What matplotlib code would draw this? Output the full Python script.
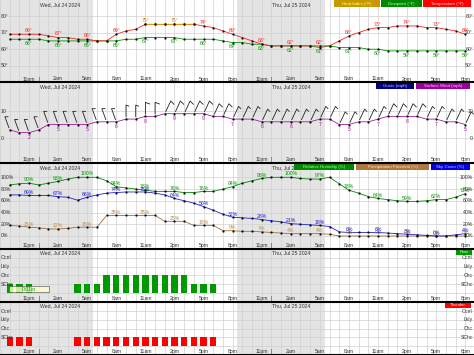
import matplotlib
matplotlib.use('Agg')
import matplotlib.pyplot as plt
from matplotlib.patches import Rectangle
from matplotlib.lines import Line2D
from matplotlib.collections import LineCollection
from matplotlib.transforms import IdentityTransform
import numpy as np

plt.rcParams['font.family'] = ['Liberation Sans', 'DejaVu Sans']

W, H = 474, 355
FS = 3.7
LFS = 3.2

# hours after midnight Wed Jul 24 (9pm Tue ... 8pm Thu)
hours = np.arange(-3, 45)
tick_hours = np.arange(-1, 45, 3)
tick_labels = ['11pm', '2am', '5am', '8am', '11am', '2pm', '5pm', '8pm'] * 2
day_labels = ['Wed, Jul 24 2024', 'Thu, Jul 25 2024']
day_starts = [0, 24]
nights = [(-4.5, 5.6), (20.5, 29.5)]

temperature = [69, 69, 69, 69, 68, 67, 67, 66, 66, 65, 65, 69, 71, 72, 75, 75,
               75, 75, 75, 75, 74, 73, 71, 69, 67, 65, 63, 62, 62, 62, 62, 62,
               62, 62, 65, 68, 70, 72, 73, 73, 74, 74, 74, 73, 73, 72, 71, 69]
dewpoint = [66, 66, 66, 66, 65, 65, 65, 65, 65, 65, 65, 65, 66, 66, 67, 67,
            67, 67, 66, 66, 66, 66, 65, 64, 64, 63, 63, 62, 62, 62, 62, 62,
            61, 62, 61, 61, 61, 60, 60, 59, 59, 59, 59, 59, 59, 59, 59, 59]
heat_hours = [11, 12, 13, 14, 15, 16]
heat_index = [75, 75, 75, 75, 75, 75]

wind = [3, 2, 2, 3, 5, 5, 5, 5, 5, 6, 6, 6, 7, 7, 8, 8,
        9, 9, 9, 9, 9, 8, 8, 7, 7, 7, 6, 6, 6, 6, 6, 6,
        7, 7, 5, 5, 6, 6, 7, 8, 8, 8, 8, 7, 7, 6, 6, 5]
wind_dir = [340] * 12 + [0] * 4 + [25] * 32

humidity = [87, 89, 90, 87, 90, 93, 97, 100, 100, 100, 94, 84, 82, 80, 78, 76,
            76, 76, 74, 74, 76, 76, 80, 84, 90, 94, 98, 100, 100, 100, 98, 97,
            97, 100, 89, 78, 73, 67, 64, 62, 60, 59, 59, 60, 62, 62, 66, 72]
precip = [18, 17, 15, 14, 12, 12, 13, 15, 15, 15, 35, 35, 35, 35, 35, 35,
          25, 25, 25, 18, 18, 18, 9, 9, 8, 8, 7, 6, 5, 4, 4, 4,
          4, 3, 0, 0, 0, 0, 0, 0, 0, 0, 0, 0, 0, 0, 0, 0]
sky = [70, 70, 69, 69, 69, 67, 66, 61, 66, 70, 73, 74, 75, 75, 75, 73,
       70, 64, 60, 56, 50, 44, 37, 32, 31, 30, 28, 26, 24, 21, 20, 19,
       18, 16, 7, 6, 6, 6, 6, 5, 4, 3, 2, 1, 0, 0, 2, 4]

chance_names = ['SChc', 'Chc', 'Lkly', 'Ocnl']
rain_level = [1, 1, 1, 0, 0, 0, 0, 1, 1, 1, 2, 2, 2, 2, 2, 2,
              2, 2, 2, 1, 1, 1, 0, 0, 0, 0, 0, 0, 0, 0, 0, 0,
              0, 0, 0, 0, 0, 0, 0, 0, 0, 0, 0, 0, 0, 0, 0, 0]
thunder_level = [1, 1, 1, 0, 0, 0, 0, 1, 1, 1, 1, 1, 1, 1, 1, 1,
                 1, 1, 1, 1, 1, 1, 0, 0, 0, 0, 0, 0, 0, 0, 0, 0,
                 0, 0, 0, 0, 0, 0, 0, 0, 0, 0, 0, 0, 0, 0, 0, 0]
qpf_text = '0.01in'

fig = plt.figure(figsize=(W / 100, H / 100), dpi=100)


def fy(px):
    return 1 - px / H


def panel(top, bottom, ylim, yticks, ylabels):
    ax = fig.add_axes([0, fy(bottom), 1, (bottom - top) / H])
    ax.set_xlim(-4.0, 44.9)
    ax.set_ylim(*ylim)
    ax.axis('off')
    for a, b in nights:
        ax.axvspan(a, b, color='#e4e4e4', lw=0, zorder=0)
    for h in range(-4, 46):
        ax.axvline(h, color='#d0d0d0', lw=0.5, zorder=1)
    for t, lab in zip(yticks, ylabels):
        ax.axhline(t, color='#d0d0d0', lw=0.5, zorder=1)
        ypos = ax.transData.transform((0, t))[1] / H
        fig.text(1 / W, ypos, lab, fontsize=FS, ha='left', va='center',
                 color='#333333')
        fig.text(1 - 1 / W, ypos, lab, fontsize=FS, ha='right', va='center',
                 color='#333333')
    xt = ax.get_xaxis_transform()
    frac = 3.3 / (bottom - top)
    for h, lab in zip(tick_hours, tick_labels):
        ax.text(h, frac, lab, transform=xt, fontsize=FS, ha='center',
                va='center', color='#333333')
    for d, lab in zip(day_starts, day_labels):
        ax.text(d, frac, '|', transform=xt, fontsize=FS, ha='center',
                va='center', color='#333333')
        ax.text(d + 0.1, 1 - 4.5 / (bottom - top), lab, transform=xt,
                fontsize=FS, ha='left', va='center', color='#333333')
    fig.add_artist(Line2D([0, 1], [fy(bottom)] * 2, color='black', lw=1.5))
    return ax


def legend(items, y0, y1):
    for lab, bg, fg, x0, x1 in items:
        fig.add_artist(Rectangle((x0 / W, fy(y1)), (x1 - x0) / W,
                                 (y1 - y0) / H, fc=bg, ec='none'))
        fig.text((x0 + x1) / 2 / W, fy((y0 + y1) / 2), lab, fontsize=LFS,
                 ha='center', va='center', color=fg)


def series(ax, xs, vals, color, fmt, dy, lab_color=None, skip=()):
    ax.plot(xs, vals, color=color, lw=0.6, marker='s', ms=1.0,
            mfc='black', mec='black', mew=0.3, zorder=4)
    lookup = dict(zip(xs, vals))
    for h in tick_hours:
        if h in lookup and h not in skip:
            ax.annotate(fmt.format(lookup[h]), (h, lookup[h]),
                        xytext=(0, dy), textcoords='offset points',
                        fontsize=FS, ha='center', va='center',
                        color=lab_color or color, zorder=5)


def barb_shape(direction, speed):
    # pixel offsets: staff toward where the wind comes from, one tick at its end
    a = np.radians(direction)
    b = np.radians(direction + 110)
    along = np.array([np.sin(a), np.cos(a)])
    tick = 5.0 if speed >= 8 else 3.5
    top = 14 * along
    return [2 * along, top, top + tick * np.array([np.sin(b), np.cos(b)])]


# temperature panel
ax1 = panel(0, 82.3, (40.06, 89.64), [80, 70, 60, 50],
            ['80°', '70°', '60°', '50°'])
series(ax1, list(hours), dewpoint, '#009900', '{}°', -3.0)
series(ax1, list(hours), temperature, '#ff2020', '{}°', 2.6, skip=heat_hours)
series(ax1, heat_hours, heat_index, '#d4a000', '{}°', 2.6, lab_color='#e08000')
legend([('Heat Index (°F)', '#c89800', '#ffff90', 334, 380),
        ('Dewpoint (°F)', '#008800', '#b0ffb0', 381, 422),
        ('Temperature (°F)', '#ff0000', '#ffd0d0', 423, 471)], 0, 7)

# wind panel
ax2 = panel(82.3, 163.3, (-9.37, 20.63), [10, 0], ['10', '0'])
series(ax2, list(hours), wind, '#a020a0', '{}', -3.6)
barbs = LineCollection([barb_shape(d, s) for s, d in zip(wind, wind_dir)],
                       offsets=np.column_stack([hours, wind]),
                       offset_transform=ax2.transData,
                       transform=IdentityTransform(),
                       colors='#222222', linewidths=0.6, zorder=3)
ax2.add_collection(barbs)
legend([('Gusts (mph)', '#000080', '#c0c0ff', 376, 414),
        ('Surface Wind (mph)', '#990099', '#ffc0ff', 416, 470)], 83, 89)

# humidity / precip / sky panel
ax3 = panel(163.3, 248.5, (-21.3, 123.85), [100, 80, 60, 40, 20, 0],
            ['100%', '80%', '60%', '40%', '20%', '0%'])
series(ax3, list(hours), precip, '#a0703a', '{}%', 2.2, lab_color='#c08a50')
series(ax3, list(hours), sky, '#2020d0', '{}%', 2.0)
series(ax3, list(hours), humidity, '#008800', '{}%', 2.4, lab_color='#009900')
legend([('Relative Humidity (%)', '#008800', '#b0ffb0', 294, 354),
        ('Precipitation Potential (%)', '#b07840', '#ffe0c0', 356, 429),
        ('Sky Cover (%)', '#0000e0', '#d0d0ff', 431, 470)], 163.5, 170)

# rain panel
ax4 = panel(248.5, 301.5, (-0.98, 5.07), [1, 2, 3, 4], chance_names)
ax4.axhline(0, color='#d0d0d0', lw=0.5, zorder=1)
ax4.bar(hours, rain_level, width=0.65, color='#009900', zorder=3)
ax4.add_patch(Rectangle((-3.1, 0.06), 4.15, 0.7, fc='#ffffcc', ec='#444444',
                        lw=0.5, alpha=0.8, zorder=4))
ax4.text(-1.0, 0.41, qpf_text, fontsize=FS, ha='center', va='center',
         color='#009900', zorder=5)
legend([('Rain', '#009900', '#d0ffd0', 456, 472)], 249, 254.5)

# thunder panel
ax5 = panel(301.5, 355, (-1.03, 5.11), [1, 2, 3, 4], chance_names)
ax5.axhline(0, color='#d0d0d0', lw=0.5, zorder=1)
ax5.bar(hours, thunder_level, width=0.65, color='#ff0000', zorder=3)
legend([('Thunder', '#ff0000', '#ffe0e0', 445, 471)], 302, 308)

fig.savefig('out.png', dpi=100)
